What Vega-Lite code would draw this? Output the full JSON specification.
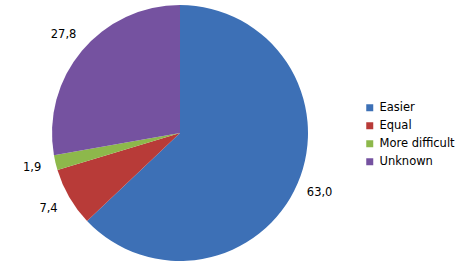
{
  "$schema": "https://vega.github.io/schema/vega-lite/v6.json",
  "width": 360,
  "height": 266,
  "autosize": {"type": "none"},
  "padding": {"left": 0, "top": 0, "right": 106, "bottom": 2},
  "background": "white",
  "config": {"view": {"stroke": null}, "font": "DejaVu Sans"},
  "data": {
    "values": [
      {"category": "Easier", "value": 63.0, "label": "63,0"},
      {"category": "Equal", "value": 7.4, "label": "7,4"},
      {"category": "More difficult", "value": 1.9, "label": "1,9"},
      {"category": "Unknown", "value": 27.8, "label": "27,8"}
    ]
  },
  "encoding": {
    "theta": {"field": "value", "type": "quantitative", "stack": true},
    "order": {"field": "category", "type": "ordinal", "sort": "ascending"}
  },
  "layer": [
    {
      "mark": {"type": "arc", "outerRadius": 128},
      "encoding": {
        "color": {
          "field": "category",
          "type": "nominal",
          "scale": {
            "domain": ["Easier", "Equal", "More difficult", "Unknown"],
            "range": ["#3d70b6", "#b83b38", "#8db84b", "#7552a0"]
          },
          "legend": {
            "title": null,
            "orient": "none",
            "legendX": 364,
            "legendY": 102,
            "symbolType": "square",
            "symbolSize": 49,
            "symbolStrokeWidth": 0,
            "labelFontSize": 11.5,
            "labelFont": "DejaVu Sans",
            "labelColor": "#000000",
            "rowPadding": 5,
            "labelOffset": 4
          }
        }
      }
    },
    {
      "mark": {"type": "text", "radius": 152, "fontSize": 11.5, "font": "DejaVu Sans", "color": "#000000"},
      "encoding": {"text": {"field": "label"}, "detail": {"field": "category", "type": "nominal"}}
    }
  ]
}
